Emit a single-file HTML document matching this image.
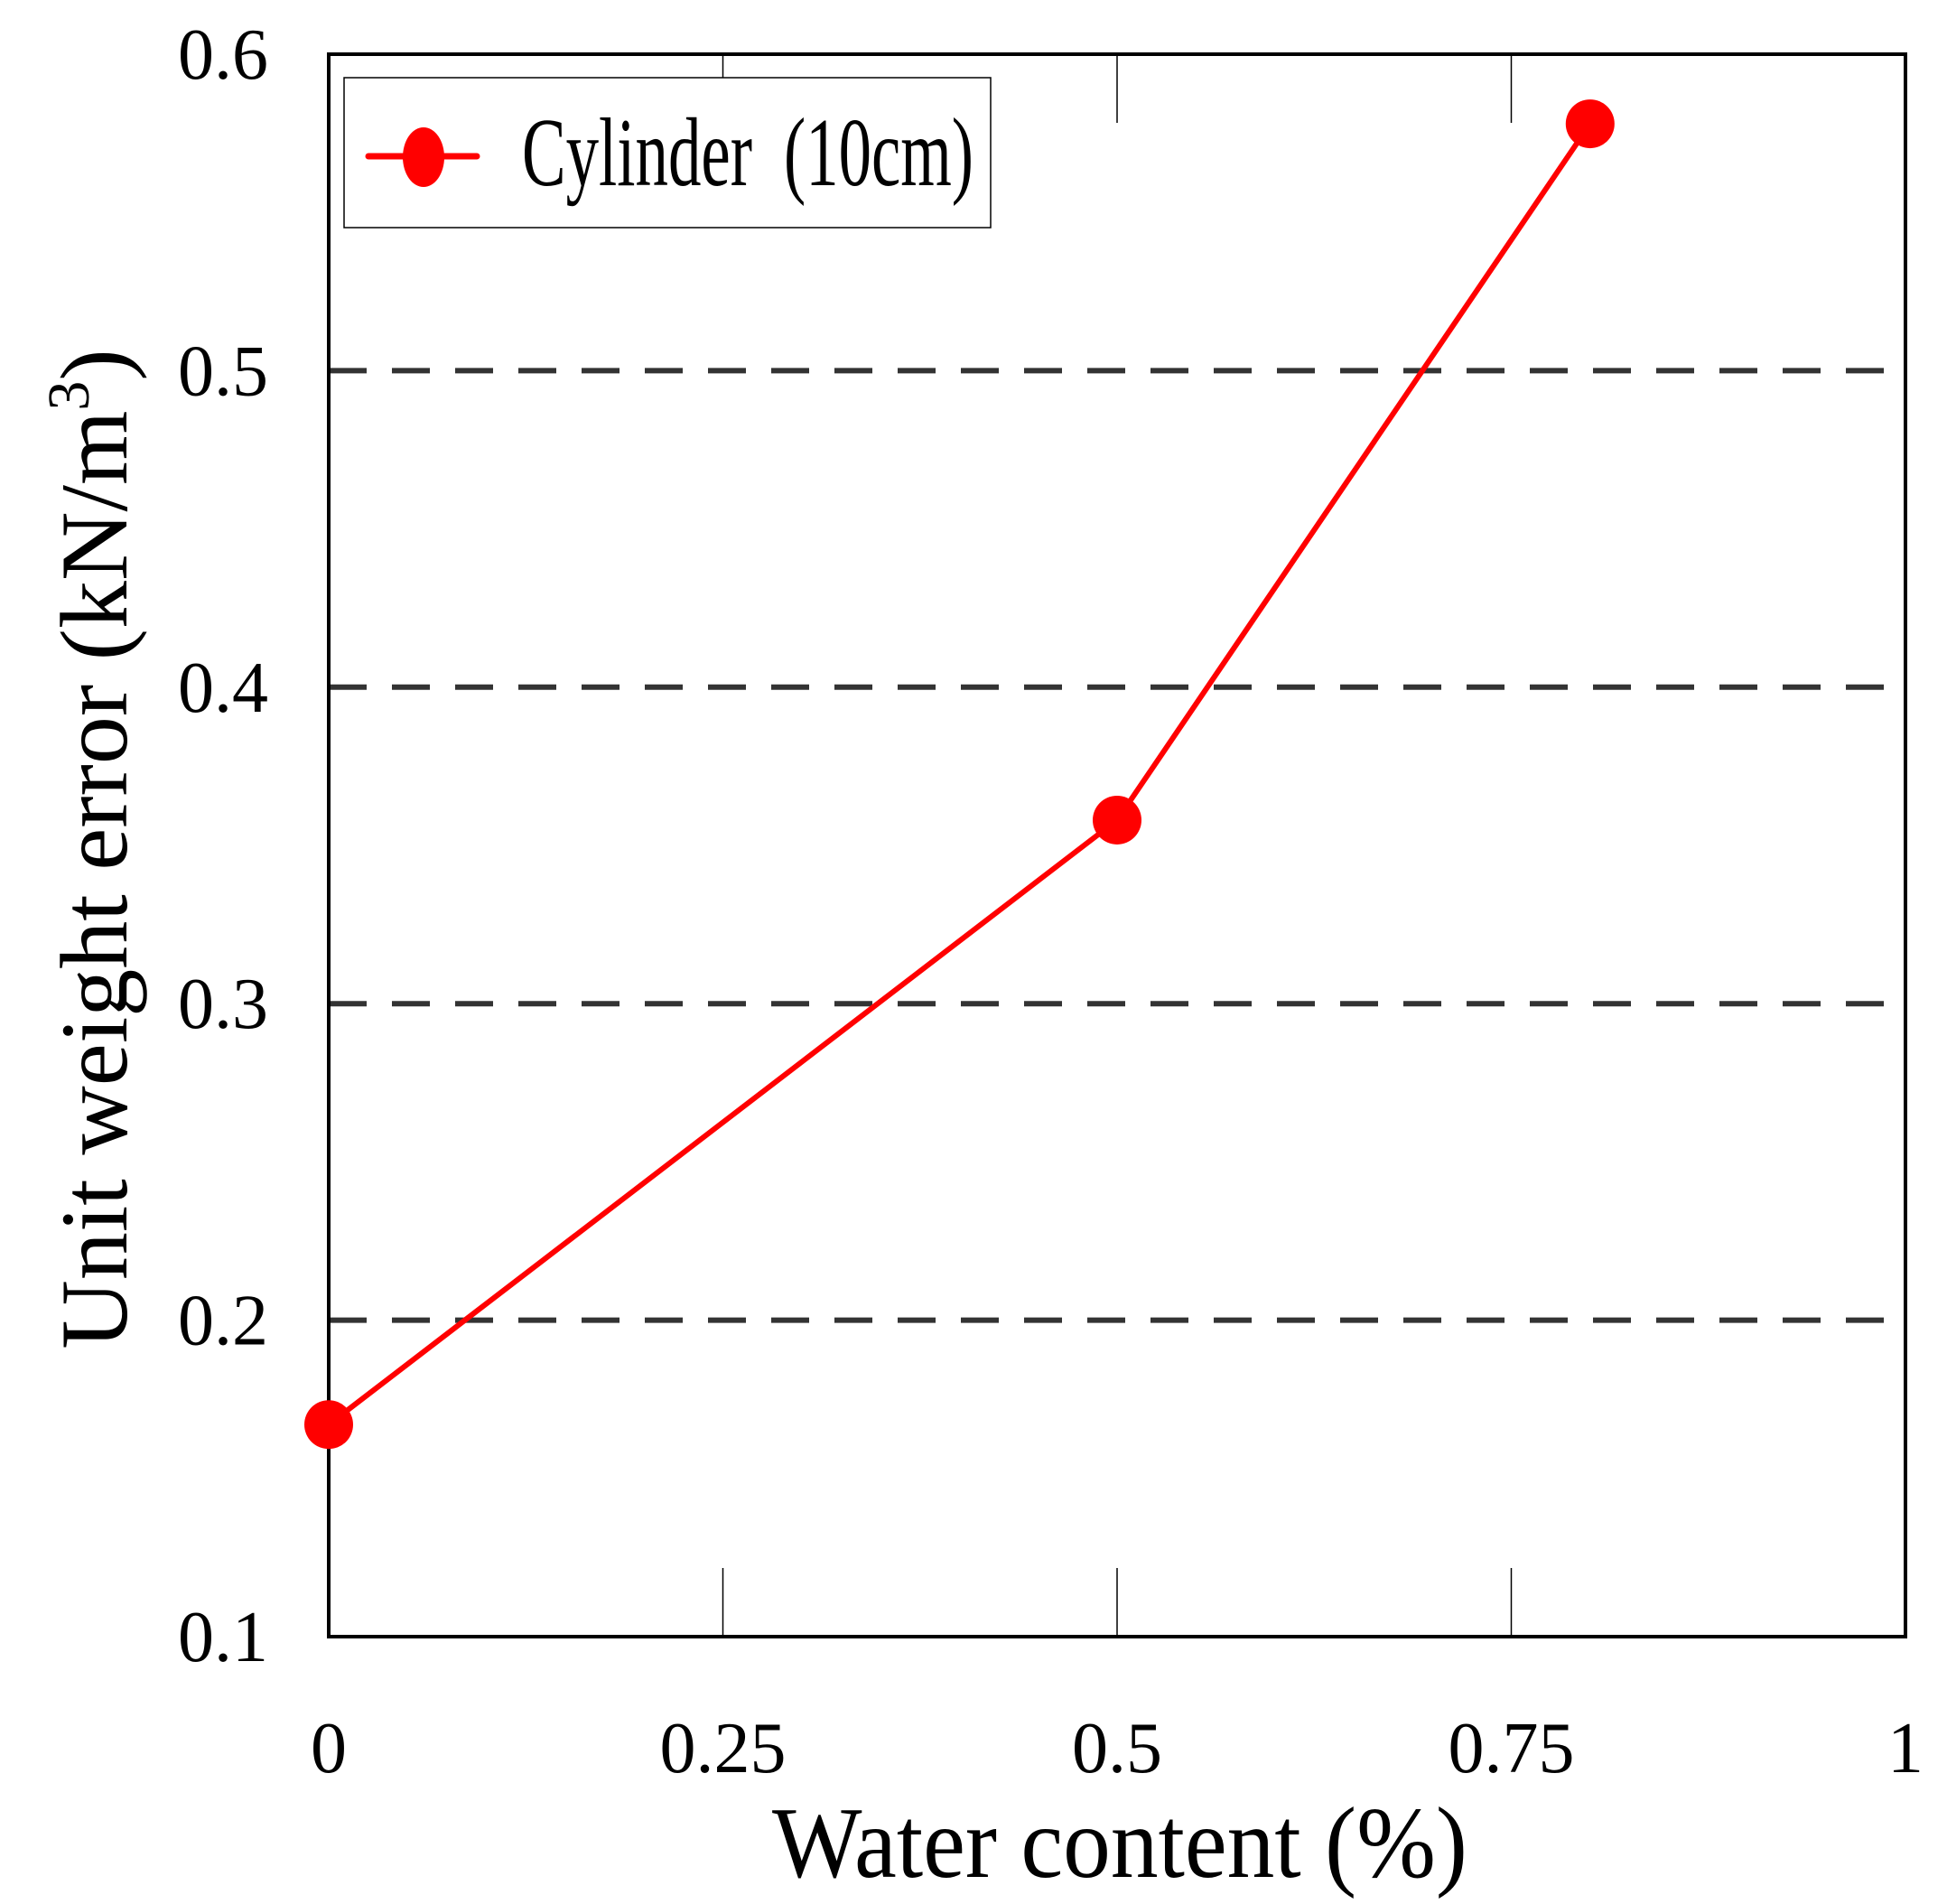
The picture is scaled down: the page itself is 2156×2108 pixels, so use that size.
<!DOCTYPE html>
<html><head><meta charset="utf-8"><style>
html,body{margin:0;padding:0;background:#fff;}
svg{display:block;font-family:"Liberation Serif",serif;}
</style></head><body>
<svg id="chart" width="2156" height="2108" viewBox="0 0 2156 2108">
<g id="grid"></g>
<g id="ticks"></g>
<rect x="364" y="60" width="1746" height="1752" fill="none" stroke="#000" stroke-width="4"/>
<g id="series"></g>
<g id="labels"></g>
<text x="1240" y="2078" font-size="112" text-anchor="middle" textLength="770" lengthAdjust="spacingAndGlyphs">Water content (%)</text>
<text transform="translate(140,940) rotate(-90)" font-size="106" text-anchor="middle">Unit weight error (kN/m<tspan font-size="66" dy="-42">3</tspan><tspan dy="42">)</tspan></text>
<g>
<rect x="381" y="86" width="716" height="166" fill="#fff" stroke="#000" stroke-width="1.5"/>
<line x1="408" y1="173" x2="528" y2="173" stroke="#f00" stroke-width="7" stroke-linecap="round"/>
<ellipse cx="469" cy="174" rx="23" ry="33" fill="#f00"/>
<text y="205" font-size="108"><tspan x="578" textLength="255" lengthAdjust="spacingAndGlyphs">Cylinder</tspan><tspan x="868" textLength="210" lengthAdjust="spacingAndGlyphs">(10cm)</tspan></text>
</g>
</svg>
<script>
const xValues=[0,0.5,0.8];
const yValues=[0.167,0.358,0.578];
const yTicks=[0.1,0.2,0.3,0.4,0.5,0.6];
const yTickLabels=["0.1","0.2","0.3","0.4","0.5","0.6"];
const xTicks=[0,0.25,0.5,0.75,1];
const xTickLabels=["0","0.25","0.5","0.75","1"];
const gridValues=[0.2,0.3,0.4,0.5];

const L=364,R=2110,T=60,B=1812;
const xs=v=>L+(v-0)/(1-0)*(R-L);
const ys=v=>B-(v-0.1)/(0.6-0.1)*(B-T);
const NS="http://www.w3.org/2000/svg";
function mk(tag,parent,attrs){const e=document.createElementNS(NS,tag);for(const k in attrs)e.setAttribute(k,attrs[k]);parent.appendChild(e);return e;}
const grid=document.getElementById('grid'),ticks=document.getElementById('ticks'),series=document.getElementById('series'),labels=document.getElementById('labels');
gridValues.forEach(v=>{
  const l=mk('line',grid,{x1:L,x2:R,y1:ys(v),y2:ys(v),stroke:'#333','stroke-width':6,'stroke-dasharray':'42 28'});
  
  
});
xTicks.forEach((v,i)=>{
  if(v>0&&v<1){
    const a=mk('line',ticks,{x1:xs(v),x2:xs(v),y1:T,y2:T+76,stroke:'#000','stroke-width':1.5});
    
    
    const b=mk('line',ticks,{x1:xs(v),x2:xs(v),y1:B,y2:B-76,stroke:'#000','stroke-width':1.5});
    
    
  }
  const t=mk('text',labels,{x:xs(v),y:1962,'font-size':80,'text-anchor':'middle'});
  t.textContent=xTickLabels[i];
  
  
});
yTicks.forEach((v,i)=>{
  const t=mk('text',labels,{x:297,y:ys(v)+27,'font-size':80,'text-anchor':'end'});
  t.textContent=yTickLabels[i];
  
  
});
const pts=xValues.map((x,i)=>xs(x)+','+ys(yValues[i])).join(' ');
const pl=mk('polyline',series,{points:pts,fill:'none',stroke:'#f00','stroke-width':6});


xValues.forEach((x,i)=>{
  const c=mk('circle',series,{cx:xs(x),cy:ys(yValues[i]),r:27,fill:'#f00'});
  
  
});
</script>
</body></html>
